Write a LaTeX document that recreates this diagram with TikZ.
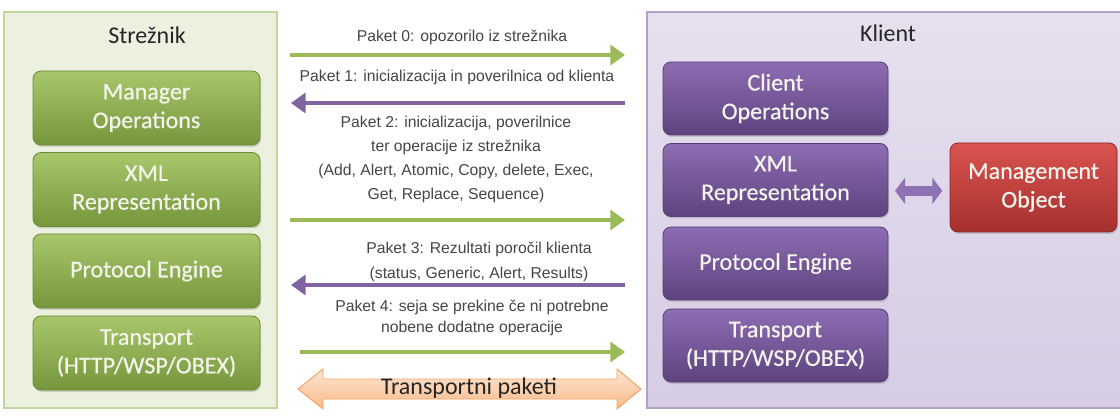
\documentclass[tikz,border=0pt]{standalone}
\usepackage{fontspec}
\setmainfont{Carlito}
\newfontfamily\layerfont[FakeBold=0.5]{Carlito}
\newfontfamily\labelfont{Liberation Sans}
\usetikzlibrary{arrows.meta,shadows}

\definecolor{srvbg}{HTML}{EBF1DE}
\definecolor{srvline}{HTML}{C3D69B}
\definecolor{clibg}{HTML}{E6E0EE}
\definecolor{clibgdark}{HTML}{D6CCE4}
\definecolor{cliline}{HTML}{B3A2C7}
\definecolor{greentop}{HTML}{A8C76B}
\definecolor{greenbot}{HTML}{76963C}
\definecolor{greenline}{HTML}{6D8A36}
\definecolor{purptop}{HTML}{8D6DB3}
\definecolor{purpbot}{HTML}{5E437F}
\definecolor{purpline}{HTML}{573E77}
\definecolor{redtop}{HTML}{DA5450}
\definecolor{redbot}{HTML}{A5302D}
\definecolor{redline}{HTML}{8C2826}
\definecolor{boxtext}{HTML}{F4F4EC}
\definecolor{titletext}{HTML}{262626}
\definecolor{labeltext}{HTML}{454545}
\definecolor{greenarrow}{HTML}{9BBB59}
\definecolor{purparrow}{HTML}{8064A2}
\definecolor{linkpurple}{HTML}{8E72B4}
\definecolor{orangetop}{HTML}{FDE6D3}
\definecolor{orangebot}{HTML}{F8BA8A}
\definecolor{orangeline}{HTML}{F4A261}

\begin{document}
\begin{tikzpicture}[x=0.75pt,y=-0.75pt,
  panel/.style={rectangle, line width=0.8pt, inner sep=0pt},
  srvpanel/.style={panel, draw=srvline, fill=srvbg,
    minimum width=204.75pt, minimum height=297pt},
  clipanel/.style={panel, draw=cliline, top color=clibg, bottom color=clibgdark,
    minimum width=357.75pt, minimum height=297pt},
  title/.style={text=titletext, font=\fontsize{18}{21.5}\selectfont},
  layer/.style={rectangle, rounded corners=6pt, line width=0.6pt, align=center,
    text=boxtext, font=\layerfont\fontsize{18}{21.5}\selectfont, inner sep=0pt,
    drop shadow={shadow xshift=0.8pt, shadow yshift=-1.5pt, opacity=0.3}},
  srvlayer/.style={layer, draw=greenline, top color=greentop, bottom color=greenbot,
    minimum width=170.25pt, minimum height=55.5pt},
  clilayer/.style={layer, draw=purpline, top color=purptop, bottom color=purpbot,
    minimum width=168.75pt, minimum height=54.75pt},
  mobox/.style={layer, draw=redline, top color=redtop, bottom color=redbot,
    minimum width=125.25pt, minimum height=66.75pt},
  pktlabel/.style={align=center, text=labeltext, inner sep=0pt},
  toclient/.style={draw=greenarrow, line width=3.4pt,
    -{Triangle[length=11pt,width=15pt]}},
  toserver/.style={draw=purparrow, line width=3.2pt,
    -{Triangle[length=11pt,width=15pt]}},
  molink/.style={draw=linkpurple, line width=7.5pt,
    {Triangle[length=7.5pt,width=19.5pt]}-{Triangle[length=7.5pt,width=19.5pt]}},
  transport/.style={draw=orangeline, line width=0.7pt,
    top color=orangetop, bottom color=orangebot},
]
\useasboundingbox (0,0) rectangle (1120,416);

% Server and client panels
\node[srvpanel] (srv) at (140.5,210) {};
\node[clipanel] (cli) at (885.5,210) {};
\node[title] (srvtitle) at (147,35) {Strežnik};
\node[title] (clititle) at (888,33) {Klient};

% Server protocol stack
\node[srvlayer] (smgr)  at (146.5,108)   {Manager\\Operations};
\node[srvlayer] (sxml)  at (146.5,189.5) {XML\\Representation};
\node[srvlayer] (seng)  at (146.5,271)   {Protocol Engine};
\node[srvlayer] (stran) at (146.5,353)   {Transport\\(HTTP/WSP/OBEX)};

% Client protocol stack
\node[clilayer] (cops)  at (775.5,98.5)  {Client\\Operations};
\node[clilayer] (cxml)  at (775.5,180)   {XML\\Representation};
\node[clilayer] (ceng)  at (775.5,263.5) {Protocol Engine};
\node[clilayer] (ctran) at (775.5,345.5) {Transport\\(HTTP/WSP/OBEX)};

% Management object
\node[mobox] (mo) at (1033.5,187.5) {Management\\Object};
\draw[molink, shorten <=5pt, shorten >=5.5pt]
  ([yshift=-2.5pt]cxml.east |- mo.west) -- ([yshift=-2.5pt]mo.west);

% Packet exchange
\coordinate (p0s) at (290,55);  \coordinate (p0e) at (625,55);
\coordinate (p1s) at (625,103); \coordinate (p1e) at (291,103);
\coordinate (p2s) at (290,220); \coordinate (p2e) at (625,220);
\coordinate (p3s) at (625,285); \coordinate (p3e) at (291,285);
\coordinate (p4s) at (300,352); \coordinate (p4e) at (625,352);

\draw[toclient] (p0s) -- (p0e);
\draw[toserver] (p1s) -- (p1e);
\draw[toclient] (p2s) -- (p2e);
\draw[toserver] (p3s) -- (p3e);
\draw[toclient] (p4s) -- (p4e);

\node[pktlabel, font=\labelfont\fontsize{11.8}{18}\selectfont] (l0) at (462,37)
  {Paket 0: opozorilo iz strežnika};
\node[pktlabel, font=\labelfont\fontsize{11.8}{18}\selectfont] (l1) at (457,77)
  {Paket 1: inicializacija in poverilnica od klienta};
\node[pktlabel, font=\labelfont\fontsize{11.8}{18}\selectfont] (l2) at (456,159)
  {Paket 2: inicializacija, poverilnice\\ter operacije iz strežnika\\(Add, Alert, Atomic, Copy, delete, Exec,\\Get, Replace, Sequence)};
\node[pktlabel, font=\labelfont\fontsize{11.8}{18.75}\selectfont] (l3) at (479,262)
  {Paket 3: Rezultati poročil klienta\\(status, Generic, Alert, Results)};
\node[pktlabel, font=\labelfont\fontsize{11.8}{15.75}\selectfont] (l4) at (472,318)
  {Paket 4: seja se prekine če ni potrebne\\nobene dodatne operacije};

% Transport packets band
\draw[transport] (298,389) -- (323,369) -- (323,379) -- (617,379) -- (617,369)
  -- (641,389) -- (617,409) -- (617,399) -- (323,399) -- (323,409) -- cycle;
\node[text=titletext, font=\fontsize{18}{21.5}\selectfont] (tp) at (469,388)
  {Transportni paketi};
\end{tikzpicture}
\end{document}
